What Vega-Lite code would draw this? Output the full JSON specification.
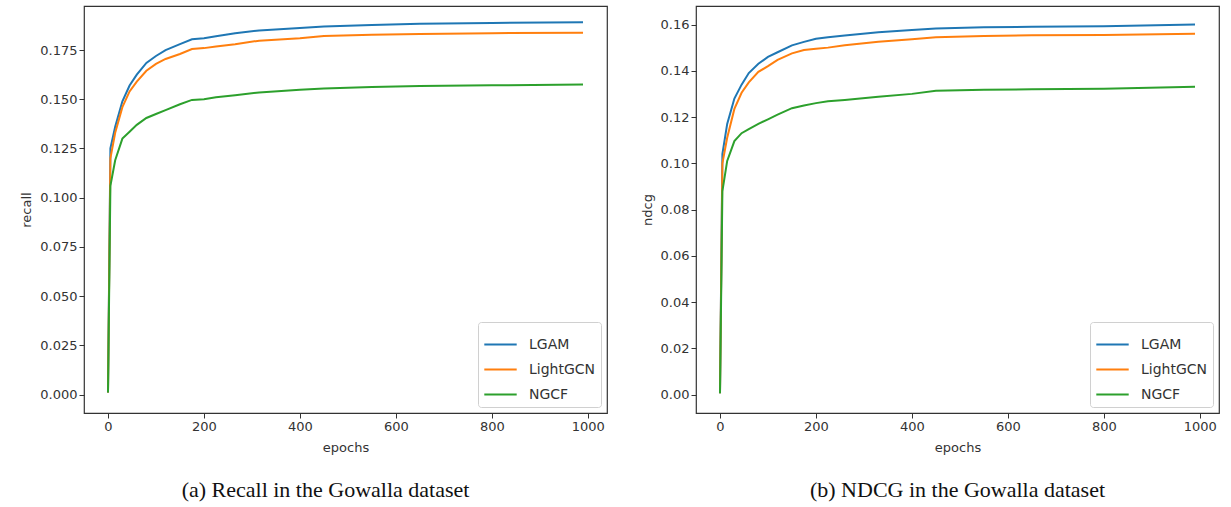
{
  "$schema": "https://vega.github.io/schema/vega-lite/v6.json",
  "padding": {"left": 20, "top": 5, "right": 2, "bottom": 2},
  "background": "white",
  "datasets": {
    "recall": [
      {"epoch": 0, "model": "LGAM", "value": 0.001},
      {"epoch": 5, "model": "LGAM", "value": 0.125},
      {"epoch": 15, "model": "LGAM", "value": 0.136},
      {"epoch": 30, "model": "LGAM", "value": 0.149},
      {"epoch": 45, "model": "LGAM", "value": 0.157},
      {"epoch": 60, "model": "LGAM", "value": 0.1625},
      {"epoch": 80, "model": "LGAM", "value": 0.1685},
      {"epoch": 100, "model": "LGAM", "value": 0.172},
      {"epoch": 120, "model": "LGAM", "value": 0.175},
      {"epoch": 150, "model": "LGAM", "value": 0.178},
      {"epoch": 175, "model": "LGAM", "value": 0.1805},
      {"epoch": 200, "model": "LGAM", "value": 0.181},
      {"epoch": 225, "model": "LGAM", "value": 0.182},
      {"epoch": 265, "model": "LGAM", "value": 0.1836},
      {"epoch": 315, "model": "LGAM", "value": 0.185},
      {"epoch": 400, "model": "LGAM", "value": 0.1862},
      {"epoch": 450, "model": "LGAM", "value": 0.187},
      {"epoch": 550, "model": "LGAM", "value": 0.1878},
      {"epoch": 650, "model": "LGAM", "value": 0.1884},
      {"epoch": 800, "model": "LGAM", "value": 0.1888},
      {"epoch": 990, "model": "LGAM", "value": 0.1892},
      {"epoch": 0, "model": "LightGCN", "value": 0.001},
      {"epoch": 5, "model": "LightGCN", "value": 0.12},
      {"epoch": 15, "model": "LightGCN", "value": 0.133},
      {"epoch": 30, "model": "LightGCN", "value": 0.146},
      {"epoch": 45, "model": "LightGCN", "value": 0.154},
      {"epoch": 60, "model": "LightGCN", "value": 0.159},
      {"epoch": 80, "model": "LightGCN", "value": 0.1645},
      {"epoch": 100, "model": "LightGCN", "value": 0.168},
      {"epoch": 120, "model": "LightGCN", "value": 0.1705},
      {"epoch": 150, "model": "LightGCN", "value": 0.173},
      {"epoch": 175, "model": "LightGCN", "value": 0.1755},
      {"epoch": 200, "model": "LightGCN", "value": 0.176},
      {"epoch": 225, "model": "LightGCN", "value": 0.1768},
      {"epoch": 265, "model": "LightGCN", "value": 0.178},
      {"epoch": 315, "model": "LightGCN", "value": 0.1798},
      {"epoch": 400, "model": "LightGCN", "value": 0.181},
      {"epoch": 450, "model": "LightGCN", "value": 0.1822},
      {"epoch": 550, "model": "LightGCN", "value": 0.1828},
      {"epoch": 650, "model": "LightGCN", "value": 0.1832},
      {"epoch": 800, "model": "LightGCN", "value": 0.1836},
      {"epoch": 990, "model": "LightGCN", "value": 0.1838},
      {"epoch": 0, "model": "NGCF", "value": 0.001},
      {"epoch": 5, "model": "NGCF", "value": 0.106},
      {"epoch": 15, "model": "NGCF", "value": 0.119},
      {"epoch": 30, "model": "NGCF", "value": 0.13},
      {"epoch": 45, "model": "NGCF", "value": 0.1335},
      {"epoch": 60, "model": "NGCF", "value": 0.137},
      {"epoch": 80, "model": "NGCF", "value": 0.1405},
      {"epoch": 100, "model": "NGCF", "value": 0.1425},
      {"epoch": 120, "model": "NGCF", "value": 0.1445},
      {"epoch": 150, "model": "NGCF", "value": 0.1475},
      {"epoch": 175, "model": "NGCF", "value": 0.1497},
      {"epoch": 200, "model": "NGCF", "value": 0.15},
      {"epoch": 225, "model": "NGCF", "value": 0.151},
      {"epoch": 265, "model": "NGCF", "value": 0.152},
      {"epoch": 315, "model": "NGCF", "value": 0.1535},
      {"epoch": 400, "model": "NGCF", "value": 0.1548},
      {"epoch": 450, "model": "NGCF", "value": 0.1555},
      {"epoch": 550, "model": "NGCF", "value": 0.1562},
      {"epoch": 650, "model": "NGCF", "value": 0.1567},
      {"epoch": 800, "model": "NGCF", "value": 0.1571},
      {"epoch": 990, "model": "NGCF", "value": 0.1575}
    ],
    "ndcg": [
      {"epoch": 0, "model": "LGAM", "value": 0.0005},
      {"epoch": 5, "model": "LGAM", "value": 0.104},
      {"epoch": 15, "model": "LGAM", "value": 0.117},
      {"epoch": 30, "model": "LGAM", "value": 0.128},
      {"epoch": 45, "model": "LGAM", "value": 0.134},
      {"epoch": 60, "model": "LGAM", "value": 0.139},
      {"epoch": 80, "model": "LGAM", "value": 0.143},
      {"epoch": 100, "model": "LGAM", "value": 0.146},
      {"epoch": 120, "model": "LGAM", "value": 0.148},
      {"epoch": 150, "model": "LGAM", "value": 0.151},
      {"epoch": 175, "model": "LGAM", "value": 0.1525},
      {"epoch": 200, "model": "LGAM", "value": 0.1538},
      {"epoch": 225, "model": "LGAM", "value": 0.1545},
      {"epoch": 260, "model": "LGAM", "value": 0.1552},
      {"epoch": 330, "model": "LGAM", "value": 0.1566},
      {"epoch": 400, "model": "LGAM", "value": 0.1576},
      {"epoch": 450, "model": "LGAM", "value": 0.1583},
      {"epoch": 550, "model": "LGAM", "value": 0.1588},
      {"epoch": 650, "model": "LGAM", "value": 0.159},
      {"epoch": 800, "model": "LGAM", "value": 0.1592},
      {"epoch": 990, "model": "LGAM", "value": 0.16},
      {"epoch": 0, "model": "LightGCN", "value": 0.0005},
      {"epoch": 5, "model": "LightGCN", "value": 0.1},
      {"epoch": 15, "model": "LightGCN", "value": 0.111},
      {"epoch": 30, "model": "LightGCN", "value": 0.1235},
      {"epoch": 45, "model": "LightGCN", "value": 0.1305},
      {"epoch": 60, "model": "LightGCN", "value": 0.135},
      {"epoch": 80, "model": "LightGCN", "value": 0.1395},
      {"epoch": 100, "model": "LightGCN", "value": 0.142},
      {"epoch": 120, "model": "LightGCN", "value": 0.1447},
      {"epoch": 150, "model": "LightGCN", "value": 0.1475},
      {"epoch": 175, "model": "LightGCN", "value": 0.149},
      {"epoch": 200, "model": "LightGCN", "value": 0.1495},
      {"epoch": 225, "model": "LightGCN", "value": 0.15},
      {"epoch": 260, "model": "LightGCN", "value": 0.151},
      {"epoch": 330, "model": "LightGCN", "value": 0.1525},
      {"epoch": 400, "model": "LightGCN", "value": 0.1536},
      {"epoch": 450, "model": "LightGCN", "value": 0.1545},
      {"epoch": 550, "model": "LightGCN", "value": 0.155},
      {"epoch": 650, "model": "LightGCN", "value": 0.1553},
      {"epoch": 800, "model": "LightGCN", "value": 0.1555},
      {"epoch": 990, "model": "LightGCN", "value": 0.156},
      {"epoch": 0, "model": "NGCF", "value": 0.0005},
      {"epoch": 5, "model": "NGCF", "value": 0.088},
      {"epoch": 15, "model": "NGCF", "value": 0.101},
      {"epoch": 30, "model": "NGCF", "value": 0.1096},
      {"epoch": 45, "model": "NGCF", "value": 0.113},
      {"epoch": 60, "model": "NGCF", "value": 0.1148},
      {"epoch": 80, "model": "NGCF", "value": 0.117},
      {"epoch": 100, "model": "NGCF", "value": 0.119},
      {"epoch": 120, "model": "NGCF", "value": 0.121},
      {"epoch": 150, "model": "NGCF", "value": 0.1238},
      {"epoch": 175, "model": "NGCF", "value": 0.125},
      {"epoch": 200, "model": "NGCF", "value": 0.126},
      {"epoch": 225, "model": "NGCF", "value": 0.1268},
      {"epoch": 260, "model": "NGCF", "value": 0.1274},
      {"epoch": 330, "model": "NGCF", "value": 0.1288},
      {"epoch": 400, "model": "NGCF", "value": 0.13},
      {"epoch": 450, "model": "NGCF", "value": 0.1313},
      {"epoch": 550, "model": "NGCF", "value": 0.1318},
      {"epoch": 650, "model": "NGCF", "value": 0.132},
      {"epoch": 800, "model": "NGCF", "value": 0.1322},
      {"epoch": 990, "model": "NGCF", "value": 0.1331}
    ]
  },
  "config": {
    "view": {"stroke": "#333", "strokeWidth": 1.2},
    "axis": {
      "grid": false, "domain": false,
      "tickColor": "#333", "tickSize": 5, "tickWidth": 1,
      "labelFont": "DejaVu Sans", "labelFontSize": 13, "labelColor": "#333", "labelPadding": 2,
      "titleFont": "DejaVu Sans", "titleFontSize": 13, "titleFontWeight": "normal", "titleColor": "#333"
    },
    "legend": {
      "orient": "bottom-right", "offset": 6,
      "strokeColor": "#d0d0d0", "fillColor": "white", "cornerRadius": 3, "padding": 5,
      "symbolType": "stroke", "symbolSize": 1050, "symbolStrokeWidth": 2,
      "labelFont": "DejaVu Sans", "labelFontSize": 14, "labelColor": "#333", "rowPadding": 0, "labelOffset": 11
    },
    "title": {"font": "Liberation Serif", "fontSize": 22, "fontWeight": "normal", "color": "#111", "orient": "bottom", "anchor": "middle", "offset": 26}
  },
  "spacing": 32,
  "resolve": {"scale": {"color": "independent"}, "legend": {"color": "independent"}},
  "hconcat": [
    {
      "width": 523, "height": 407,
      "data": {"name": "recall"},
      "title": {"text": "(a) Recall in the Gowalla dataset", "dx": -20},
      "mark": {"type": "line", "strokeWidth": 2, "clip": true},
      "encoding": {
        "x": {"field": "epoch", "type": "quantitative", "title": "epochs", "scale": {"domain": [-50, 1040], "nice": false, "zero": false}, "axis": {"values": [0, 200, 400, 600, 800, 1000], "format": "d", "titlePadding": 8}},
        "y": {"field": "value", "type": "quantitative", "title": "recall", "scale": {"domain": [-0.0094, 0.1974], "nice": false, "zero": false}, "axis": {"values": [0, 0.025, 0.05, 0.075, 0.1, 0.125, 0.15, 0.175], "format": ".3f", "titlePadding": 6}},
        "color": {"field": "model", "type": "nominal", "title": null, "scale": {"domain": ["LGAM", "LightGCN", "NGCF"], "range": ["#1f77b4", "#ff7f0e", "#2ca02c"]}}
      }
    },
    {
      "width": 523, "height": 407,
      "data": {"name": "ndcg"},
      "title": "(b) NDCG in the Gowalla dataset",
      "mark": {"type": "line", "strokeWidth": 2, "clip": true},
      "encoding": {
        "x": {"field": "epoch", "type": "quantitative", "title": "epochs", "scale": {"domain": [-50, 1040], "nice": false, "zero": false}, "axis": {"values": [0, 200, 400, 600, 800, 1000], "format": "d", "titlePadding": 8}},
        "y": {"field": "value", "type": "quantitative", "title": "ndcg", "scale": {"domain": [-0.008, 0.168], "nice": false, "zero": false}, "axis": {"values": [0, 0.02, 0.04, 0.06, 0.08, 0.1, 0.12, 0.14, 0.16], "format": ".2f", "titlePadding": 6}},
        "color": {"field": "model", "type": "nominal", "title": null, "scale": {"domain": ["LGAM", "LightGCN", "NGCF"], "range": ["#1f77b4", "#ff7f0e", "#2ca02c"]}}
      }
    }
  ]
}
